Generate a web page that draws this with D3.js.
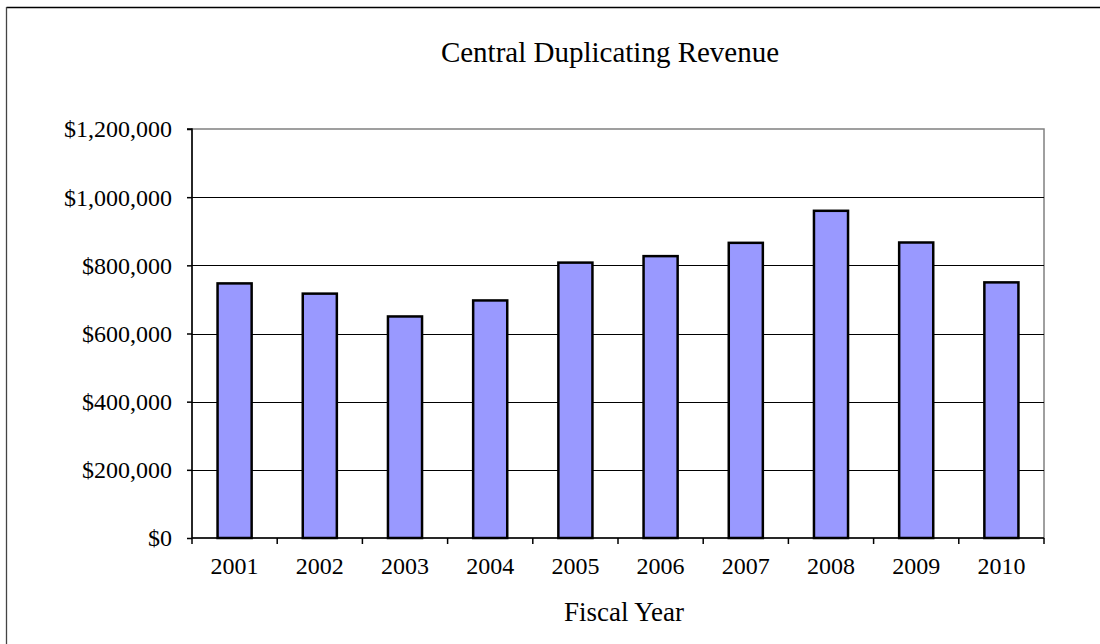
<!DOCTYPE html>
<html><head><meta charset="utf-8">
<script src="https://cdn.jsdelivr.net/npm/d3@7"></script>
<style>body{margin:0;background:#fff}svg{display:block}text{font-family:"Liberation Serif","Times New Roman",serif;fill:#000}</style>
</head><body>
<svg id="c" width="1100" height="644"></svg>
<script>
const categories = ["2001","2002","2003","2004","2005","2006","2007","2008","2009","2010"];
const revenue = [747000, 717000, 650000, 697000, 808000, 827000, 866000, 960000, 867000, 750000];
const yTicks = [0, 200000, 400000, 600000, 800000, 1000000, 1200000];
const title = "Central Duplicating Revenue";
const xTitle = "Fiscal Year";

const svg = d3.select("#c");
const L = 192, R = 1044, T = 129, B = 538;

// outer frame
svg.append("line").attr("x1",6.5).attr("x2",1100).attr("y1",7.5).attr("y2",7.5).attr("stroke","#000").attr("stroke-width",1.3);
svg.append("line").attr("x1",6.5).attr("x2",6.5).attr("y1",7).attr("y2",644).attr("stroke","#444").attr("stroke-width",1.3);

const x = d3.scaleBand().domain(categories).range([L, R]).paddingInner(0.6).paddingOuter(0.3);
const xb = d3.scaleBand().domain(categories).range([L, R]);
const y = d3.scaleLinear().domain([0, 1200000]).range([B, T]);

// plot area border
svg.append("rect").attr("x",L).attr("y",T).attr("width",R-L).attr("height",B-T).attr("fill","none").attr("stroke","#808080").attr("stroke-width",1.5);

// gridlines
svg.append("g").selectAll("line").data(yTicks.filter(d=>d>0 && d<1200000)).join("line")
  .attr("x1",L).attr("x2",R).attr("y1",d=>Math.round(y(d))+0.5).attr("y2",d=>Math.round(y(d))+0.5)
  .attr("stroke","#000").attr("stroke-width",1);

// bars
svg.append("g").selectAll("rect").data(categories).join("rect")
  .attr("x",d=>x(d)).attr("width",x.bandwidth())
  .attr("y",(d,i)=>y(revenue[i])).attr("height",(d,i)=>B-y(revenue[i]))
  .attr("fill","#9999ff").attr("stroke","#000").attr("stroke-width",2.5);

// y axis
const yAxis = d3.axisLeft(y).tickValues(yTicks).tickSize(5).tickPadding(15).tickFormat(d=>"$"+d3.format(",")(d));
const gy = svg.append("g").attr("transform",`translate(${L},0)`).call(yAxis);
gy.select(".domain").attr("stroke","#000").attr("stroke-width",1.5).attr("d",`M-5,${T}H0V${B}`);
gy.selectAll(".tick line").attr("stroke","#000").attr("stroke-width",1.5);
gy.selectAll("text").attr("font-size",24).attr("font-family","Liberation Serif").attr("fill","#000").attr("dy","0.33em");

// x axis
const gx = svg.append("g").attr("transform",`translate(0,${B})`);
gx.append("line").attr("x1",L).attr("x2",R).attr("stroke","#000").attr("stroke-width",1.5);
gx.selectAll("line.t").data(categories.concat(["end"])).join("line").attr("class","t")
  .attr("x1",(d,i)=>L+i*xb.step()).attr("x2",(d,i)=>L+i*xb.step()).attr("y1",0).attr("y2",6)
  .attr("stroke","#000").attr("stroke-width",1.5);
gx.selectAll("text").data(categories).join("text")
  .attr("x",d=>xb(d)+xb.bandwidth()/2).attr("y",36).attr("text-anchor","middle").attr("font-size",24).text(d=>d);

svg.append("text").attr("x",610).attr("y",62).attr("text-anchor","middle").attr("font-size",29).text(title);
svg.append("text").attr("x",624).attr("y",621).attr("text-anchor","middle").attr("font-size",27).text(xTitle);
</script>
</body></html>
